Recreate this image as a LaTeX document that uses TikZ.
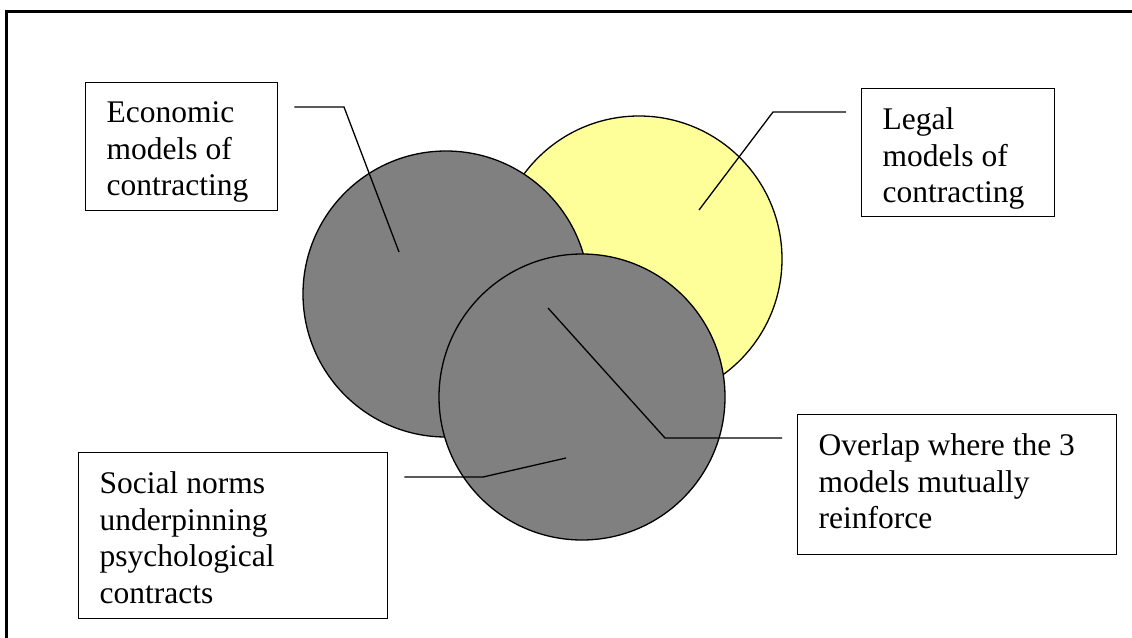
\documentclass[tikz,border=0pt]{standalone}
\usepackage{fontspec}
\setmainfont{Liberation Serif}
\definecolor{venngray}{HTML}{808080}
\definecolor{vennyellow}{HTML}{FFFF99}
\newcommand{\boxtext}[3]{\parbox[c][#2][t]{#1}{\raggedright #3}}
\tikzstyle{box} = [rectangle, draw=black, line width=1.3pt, fill=white, anchor=north west, inner xsep=21pt, inner ysep=19pt, font=\fontsize{31.5}{36.5}\selectfont]
\tikzstyle{blob} = [circle, draw=black, line width=1.3pt, minimum size=286pt, inner sep=0pt]
\tikzstyle{pointer} = [line width=1.3pt]

\begin{document}
\begin{tikzpicture}[x=1pt, y=-1pt]
	\useasboundingbox (0,0) rectangle (1132,637);
	\draw[line width=3pt] (6,11) rectangle (1145,650);

	% the three models
	\node[blob, fill=vennyellow](legalc) at (639,259){};
	\node[blob, fill=venngray](econc) at (446,294){};
	\node[blob, fill=venngray](socc) at (582,397){};

	\node[box](econ) at (85,82){\boxtext{150pt}{90pt}{Economic\\models of\\contracting}};
	\node[box](legal) at (861,88){\boxtext{151pt}{90pt}{Legal\\models of\\contracting}};
	\node[box](overlap) at (797,414){\boxtext{277pt}{102pt}{Overlap where the 3\\models mutually\\reinforce}};
	\node[box](social) at (78,452){\boxtext{267pt}{128pt}{Social norms\\underpinning\\psychological\\contracts}};

	% pointer ends
	\coordinate (econS) at ([xshift=16pt, yshift=-25pt]econ.north east);
	\coordinate (econB) at (344,107);
	\coordinate (econT) at (399,252);
	\coordinate (legalS) at ([xshift=-15pt, yshift=-24pt]legal.north west);
	\coordinate (legalB) at (773,112);
	\coordinate (legalT) at (699,210);
	\coordinate (overlapS) at ([xshift=-15pt, yshift=-24pt]overlap.north west);
	\coordinate (overlapB) at (665,438);
	\coordinate (overlapT) at (548,308);
	\coordinate (socialS) at ([xshift=16pt, yshift=-25pt]social.north east);
	\coordinate (socialB) at (483,477);
	\coordinate (socialT) at (566,458);

	\draw[pointer](econS)--(econB)--(econT);
	\draw[pointer](legalS)--(legalB)--(legalT);
	\draw[pointer](overlapS)--(overlapB)--(overlapT);
	\draw[pointer](socialS)--(socialB)--(socialT);
\end{tikzpicture}
\end{document}
